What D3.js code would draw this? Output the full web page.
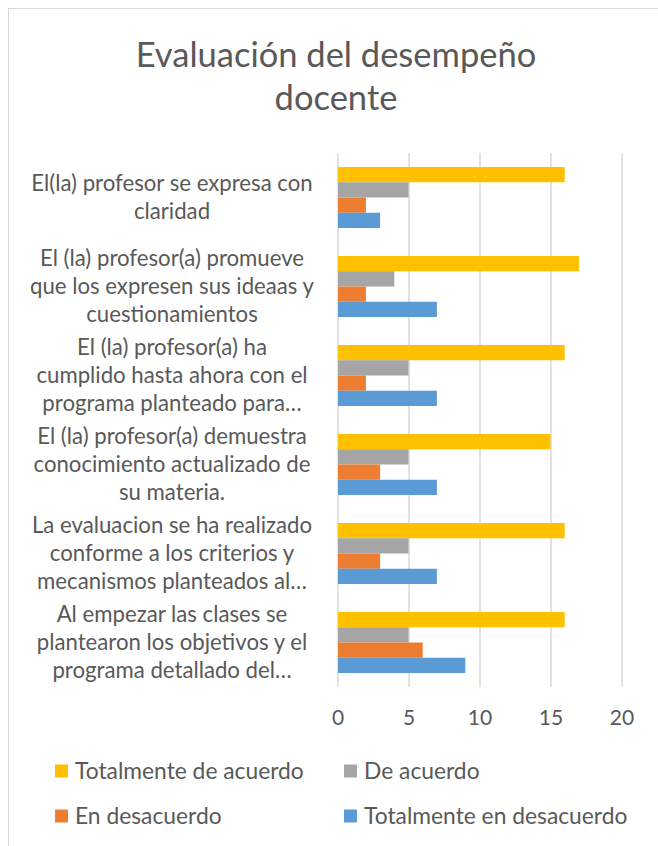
<!DOCTYPE html>
<html>
<head>
<meta charset="utf-8">
<script src="https://cdn.jsdelivr.net/npm/d3@7"></script>
<style>
  body { margin: 0; background: #fff; }
  text { font-family: Lato, "Open Sans", sans-serif; fill: #595959; }
</style>
</head>
<body>
<div id="chart"></div>
<script>
// Category labels (top to bottom), as wrapped in the chart
const categories = [
  ["El(la) profesor se expresa con", "claridad"],
  ["El (la) profesor(a) promueve", "que los expresen sus ideaas y", "cuestionamientos"],
  ["El (la) profesor(a) ha", "cumplido hasta ahora con el", "programa planteado para…"],
  ["El (la) profesor(a) demuestra", "conocimiento actualizado de", "su materia."],
  ["La evaluacion se ha realizado", "conforme a los criterios y", "mecanismos planteados al…"],
  ["Al empezar las clases se", "plantearon los objetivos y el", "programa detallado del…"]
];

const seriesNames = ["Totalmente de acuerdo", "De acuerdo", "En desacuerdo", "Totalmente en desacuerdo"];
const totalmenteDeAcuerdo = [16, 17, 16, 15, 16, 16];
const deAcuerdo = [5, 4, 5, 5, 5, 5];
const enDesacuerdo = [2, 2, 2, 3, 3, 6];
const totalmenteEnDesacuerdo = [3, 7, 7, 7, 7, 9];
const xTicks = [0, 5, 10, 15, 20];

const seriesValues = [totalmenteDeAcuerdo, deAcuerdo, enDesacuerdo, totalmenteEnDesacuerdo];
const colors = ["#FFC000", "#A5A5A5", "#ED7D31", "#5B9BD5"];

const width = 658, height = 846;
const plot = { left: 337.5, right: 621.5, top: 153, bottom: 687 };

const svg = d3.select("#chart")
  .append("svg")
  .attr("width", width)
  .attr("height", height);

// chart border (cropped on the right and bottom)
svg.append("rect")
  .attr("x", 8.5).attr("y", 8.5)
  .attr("width", 700).attr("height", 900)
  .attr("fill", "none")
  .attr("stroke", "#d9d9d9");

// Title
svg.append("text")
  .attr("text-anchor", "middle")
  .attr("font-size", 34.5)
  .selectAll("tspan")
  .data(["Evaluación del desempeño", "docente"])
  .join("tspan")
  .attr("x", 336)
  .attr("y", (d, i) => 67 + i * 43)
  .text(d => d);

// Scales
const x = d3.scaleLinear().domain([0, 20]).range([plot.left, plot.right]);

const y = d3.scaleBand()
  .domain(d3.range(categories.length))
  .range([plot.top, plot.bottom])
  .paddingInner(0.315)
  .paddingOuter(0.1575);

const ySeries = d3.scaleBand()
  .domain(d3.range(seriesNames.length))
  .range([0, y.bandwidth()]);

// Gridlines + tick labels
const xAxis = svg.append("g")
  .attr("transform", `translate(0,${plot.bottom})`)
  .call(d3.axisBottom(x).tickValues(xTicks).tickSize(-(plot.bottom - plot.top)));

xAxis.attr("font-family", null).attr("font-size", null);
xAxis.select(".domain").remove();
xAxis.selectAll(".tick line")
  .attr("stroke", "#d9d9d9")
  .attr("stroke-width", 1.5);
xAxis.selectAll(".tick text")
  .attr("y", 31)
  .attr("dy", "0.35em")
  .attr("font-size", 21)
  .attr("fill", "#595959");

// Bars
const groups = svg.append("g")
  .selectAll("g")
  .data(categories)
  .join("g")
  .attr("transform", (d, i) => `translate(0,${y(i)})`);

groups.selectAll("rect")
  .data((d, i) => seriesValues.map((vals, s) => ({ s, v: vals[i] })))
  .join("rect")
  .attr("x", x(0) + 0.5)
  .attr("y", d => ySeries(d.s))
  .attr("width", d => x(d.v) - x(0) - 0.5)
  .attr("height", ySeries.bandwidth())
  .attr("fill", d => colors[d.s]);

// Category labels
const lineH = 28;
const labels = svg.append("g")
  .attr("text-anchor", "middle")
  .attr("font-size", 22.2);

labels.selectAll("text")
  .data(categories)
  .join("text")
  .each(function (lines, i) {
    const cy = y(i) + y.bandwidth() / 2;
    d3.select(this).selectAll("tspan")
      .data(lines)
      .join("tspan")
      .attr("x", 172)
      .attr("y", (l, j) => cy + (j - (lines.length - 1) / 2) * lineH)
      .attr("dy", "0.35em")
      .text(l => l);
  });

// Legend
const legendPos = [[55, 771], [344, 771], [55, 816], [344, 816]];
const legend = svg.append("g")
  .selectAll("g")
  .data(seriesNames)
  .join("g")
  .attr("transform", (d, i) => `translate(${legendPos[i][0]},${legendPos[i][1]})`);

legend.append("rect")
  .attr("x", 0).attr("y", -6.5)
  .attr("width", 13).attr("height", 13)
  .attr("fill", (d, i) => colors[i]);

legend.append("text")
  .attr("x", 20)
  .attr("dy", "0.35em")
  .attr("font-size", 22.8)
  .text(d => d);
</script>
</body>
</html>
